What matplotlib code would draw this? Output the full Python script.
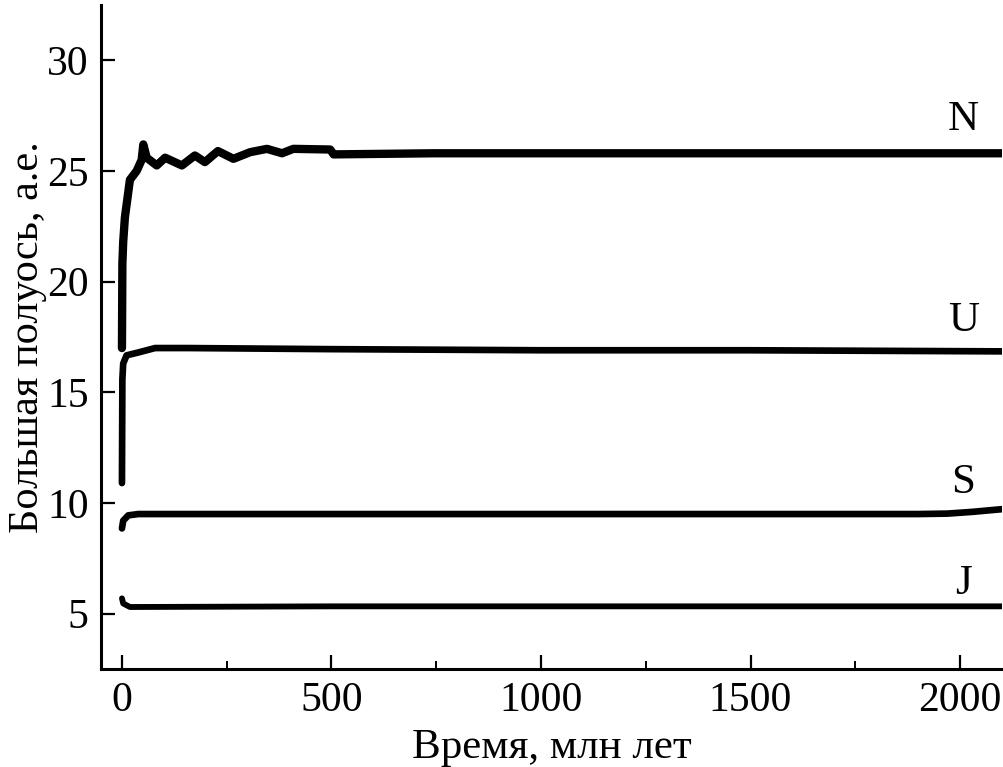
import matplotlib
matplotlib.use("Agg")
import matplotlib.pyplot as plt
from matplotlib.ticker import MultipleLocator

plt.rcParams["font.family"] = ["Liberation Serif", "DejaVu Serif"]

# semi-major axis (a.e.) vs time (Myr)
N_T = [0, 1, 3, 7, 19, 35, 47, 51, 59, 83, 103, 143, 174, 198, 229, 266, 306,
       346, 382, 409, 497, 505, 743, 1000, 1500, 2100]
N_A = [17.0, 20.8, 21.8, 22.9, 24.6, 25.0, 25.5, 26.2, 25.6, 25.25, 25.6, 25.25,
       25.7, 25.4, 25.9, 25.55, 25.85, 26.0, 25.8, 26.0, 25.97, 25.75, 25.8,
       25.8, 25.8, 25.8]

U_T = [0, 1, 3, 11, 39, 79, 158, 500, 1000, 1500, 2100]
U_A = [10.9, 15.6, 16.3, 16.67, 16.8, 17.0, 17.0, 16.95, 16.9, 16.9, 16.85]

S_T = [0, 3, 15, 39, 500, 1000, 1500, 1900, 1970, 2030, 2100]
S_A = [8.85, 9.2, 9.44, 9.5, 9.5, 9.5, 9.5, 9.5, 9.52, 9.6, 9.72]

J_T = [0, 3, 19, 500, 1000, 1500, 2100]
J_A = [5.69, 5.46, 5.3, 5.33, 5.33, 5.33, 5.33]

LABELS = ["N", "U", "S", "J"]
LABEL_T = [2008, 2008, 2008, 2008]
LABEL_A = [27.3, 18.25, 10.9, 6.37]

fig = plt.figure(figsize=(10.04, 7.67), dpi=100)
ax = fig.add_axes([0.1006, 0.1278, 0.8974, 0.8657])

for t, a, lw in [(N_T, N_A, 6.0), (U_T, U_A, 4.8), (S_T, S_A, 4.8), (J_T, J_A, 4.2)]:
    ax.plot(t, a, color="black", lw=lw, solid_joinstyle="round", solid_capstyle="round")

for lab, t, a in zip(LABELS, LABEL_T, LABEL_A):
    ax.text(t, a, lab, fontsize=31, ha="center", va="center")

ax.set_xlim(-50, 2100)
ax.set_ylim(2.5, 32.5)
ax.xaxis.set_major_locator(MultipleLocator(500))
ax.xaxis.set_minor_locator(MultipleLocator(250))
ax.yaxis.set_major_locator(MultipleLocator(5))

for side in ["top", "right"]:
    ax.spines[side].set_visible(False)
for side in ["left", "bottom"]:
    ax.spines[side].set_linewidth(2.2)

ax.tick_params(axis="both", which="major", direction="in", length=10, width=1.6,
               labelsize=30, pad=9)
ax.tick_params(axis="x", which="minor", direction="in", length=6, width=1.4)
ax.tick_params(axis="x", which="major", pad=9)

ax.set_xlabel("Время, млн лет", fontsize=31, labelpad=6)
ax.set_ylabel("Большая полуось, а.е.", fontsize=30.5, labelpad=0)

fig.savefig("out.png", dpi=100)
